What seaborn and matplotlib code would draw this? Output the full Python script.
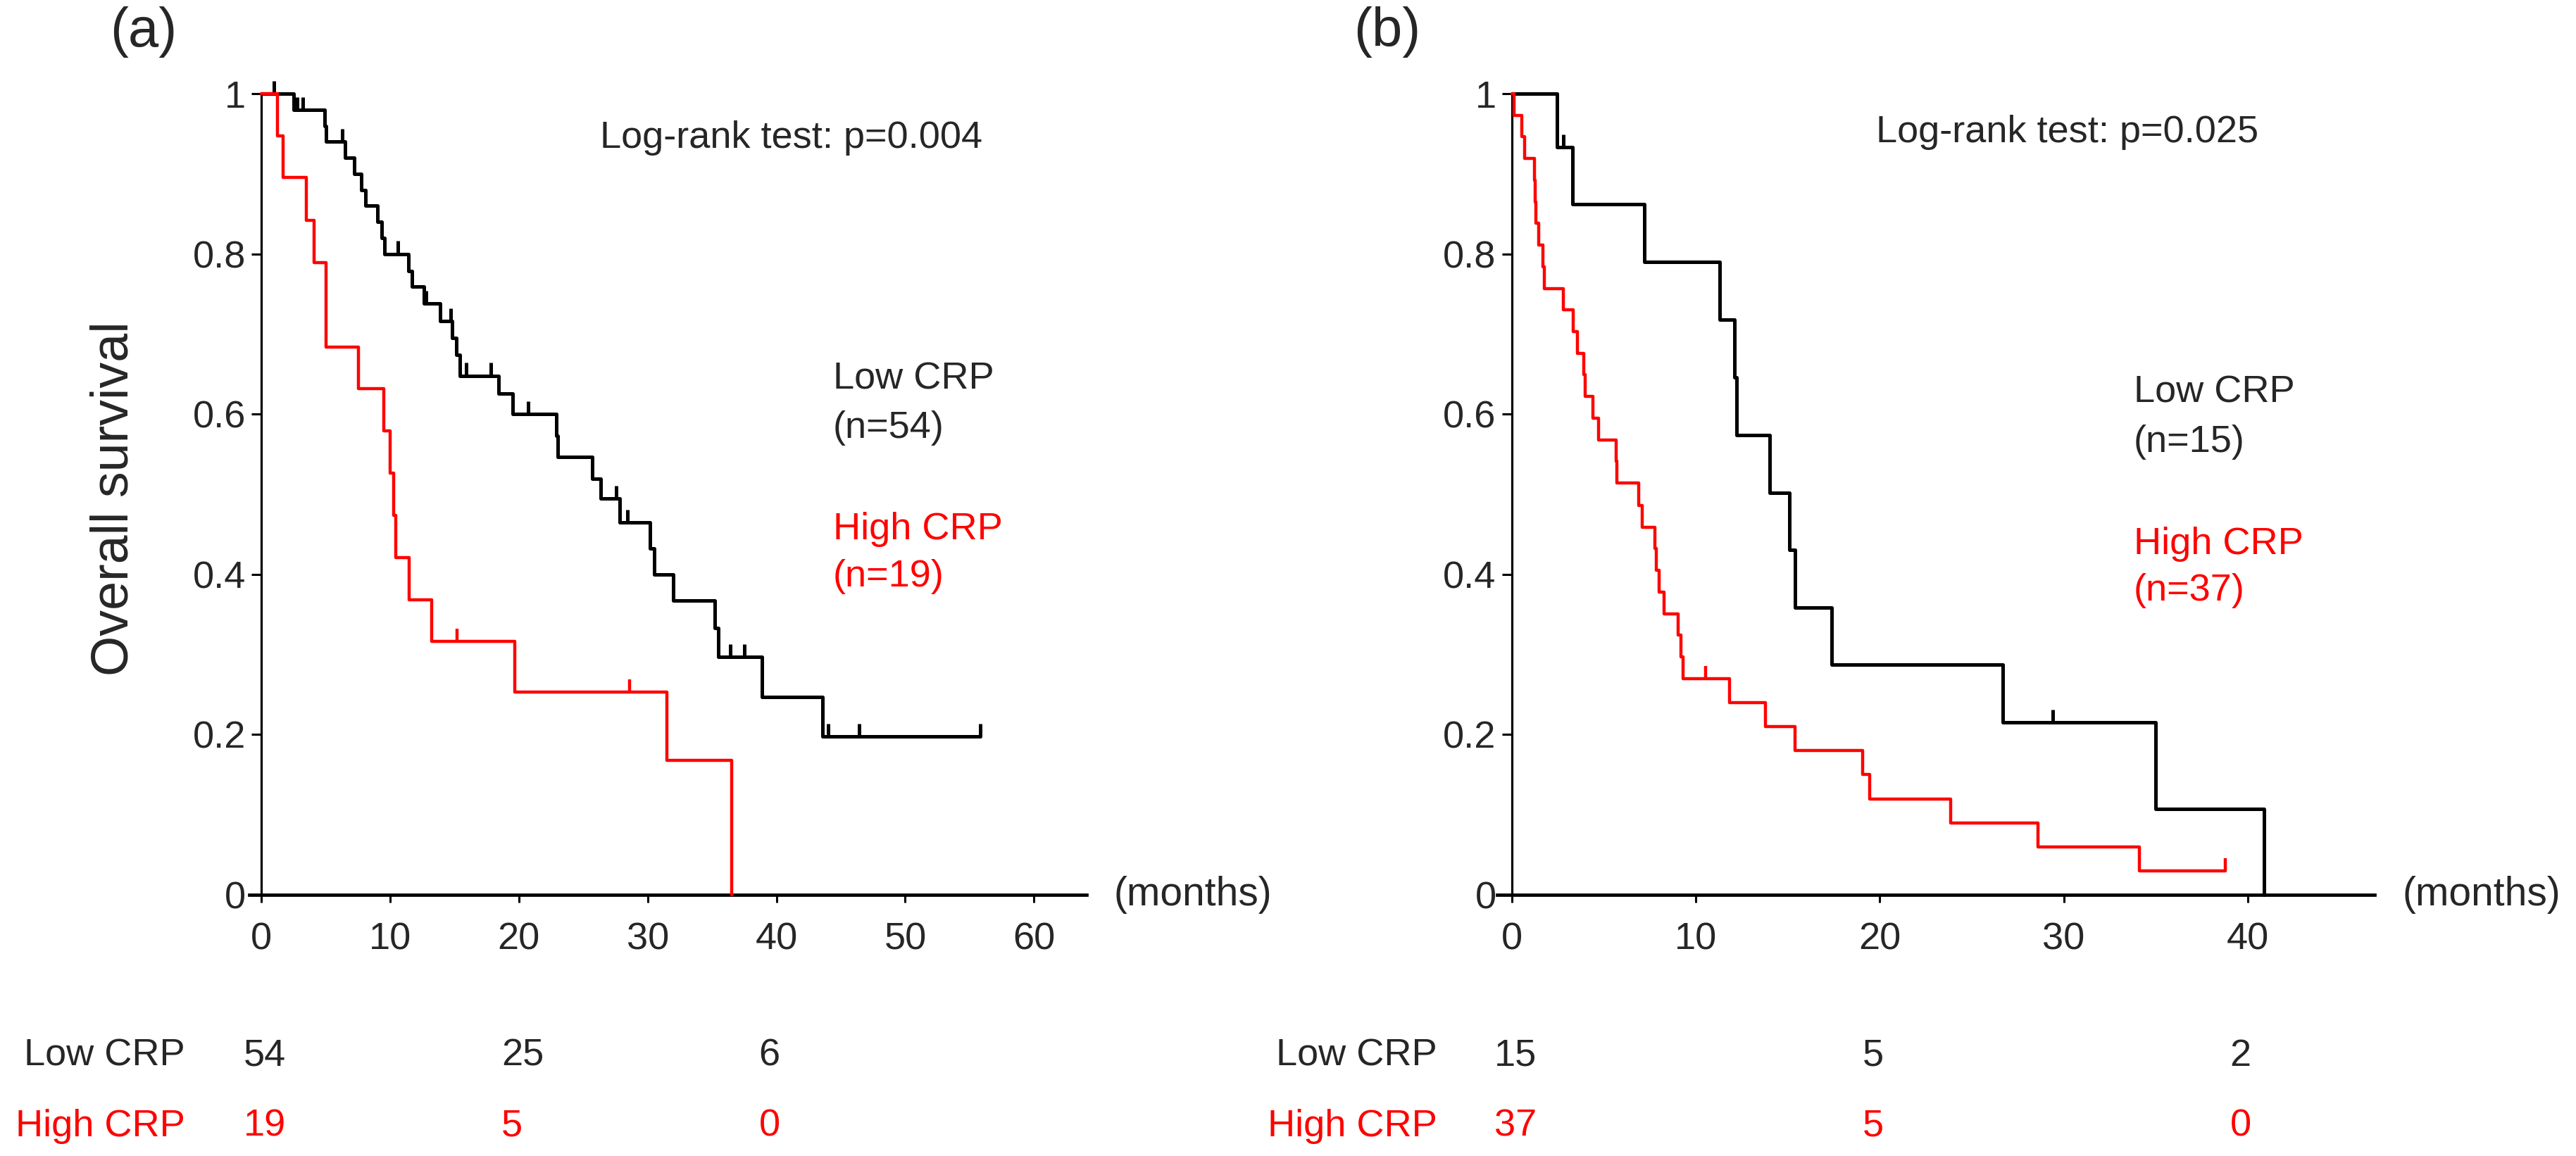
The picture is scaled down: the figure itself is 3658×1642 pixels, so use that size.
import numpy as np
import pandas as pd
import matplotlib
matplotlib.use("Agg")
import matplotlib.pyplot as plt
import matplotlib.transforms as mtransforms
import seaborn as sns

# ---- panel (a) ----
low_a_times = [2.5, 4.9, 5.0, 6.5, 7.2, 7.75, 8.1, 9.0, 9.35, 9.55, 11.45, 11.7, 12.6,
               13.9, 14.8, 15.15, 15.4, 18.4, 19.5, 22.9, 23.0, 25.7, 26.35, 27.85,
               30.2, 30.5, 32.0, 35.2, 35.5, 38.9, 43.6]
low_a_surv = [0.980, 0.960, 0.940, 0.920, 0.900, 0.880, 0.860, 0.840, 0.820, 0.800,
              0.779, 0.759, 0.738, 0.716, 0.695, 0.674, 0.648, 0.626, 0.600, 0.573,
              0.547, 0.519, 0.495, 0.465, 0.432, 0.400, 0.367, 0.333, 0.297, 0.247, 0.198]
low_a_censor = [0.97, 2.8, 3.2, 6.3, 10.6, 12.8, 14.7, 15.9, 17.8, 20.7, 27.55, 28.45,
                36.4, 37.5, 44.0, 46.4, 55.8]
low_a_end = 55.8

high_a_times = [1.24, 1.7, 3.5, 4.1, 5.0, 5.05, 7.55, 9.5, 10.0, 10.3, 10.45, 11.5,
                13.25, 19.7, 31.5, 36.5]
high_a_surv = [0.947, 0.895, 0.842, 0.789, 0.737, 0.684, 0.632, 0.579, 0.526, 0.474,
               0.421, 0.368, 0.316, 0.253, 0.168, 0.0]
high_a_censor = [15.2, 28.6]
high_a_end = 36.5

# ---- panel (b) ----
low_b_times = [2.44, 3.3, 7.2, 11.3, 12.1, 12.2, 14.0, 15.07, 15.4, 17.4, 26.7, 35.0, 40.9]
low_b_surv = [0.933, 0.862, 0.790, 0.718, 0.646, 0.574, 0.502, 0.431, 0.359, 0.287,
              0.215, 0.107, 0.0]
low_b_censor = [2.8, 29.4]
low_b_end = 40.9

high_b_times = [0.1, 0.55, 0.7, 1.24, 1.27, 1.3, 1.44, 1.67, 1.75, 2.8, 3.33, 3.56,
                3.9, 4.0, 4.4, 4.7, 5.65, 5.7, 6.9, 7.08, 7.77, 7.85, 7.99, 8.28,
                9.05, 9.2, 9.3, 11.84, 13.8, 15.4, 19.07, 19.45, 23.85, 28.6, 34.1]
high_b_surv = [0.973, 0.946, 0.919, 0.892, 0.865, 0.838, 0.811, 0.784, 0.757, 0.730,
               0.703, 0.676, 0.649, 0.622, 0.595, 0.568, 0.541, 0.514, 0.486, 0.459,
               0.432, 0.405, 0.378, 0.351, 0.324, 0.297, 0.270, 0.240, 0.210, 0.180,
               0.150, 0.120, 0.090, 0.060, 0.030]
high_b_censor = [10.55, 38.8]
high_b_end = 38.8

# numbers at risk
risk_times = [0, 20, 40]
low_a_risk = [54, 25, 6]
high_a_risk = [19, 5, 0]
low_b_risk = [15, 5, 2]
high_b_risk = [37, 5, 0]

RED = "#ff0000"
FS = 39

sns.set_theme(style="white")
plt.rcParams["font.family"] = ["Liberation Sans", "DejaVu Sans"]

fig = plt.figure(figsize=(36.58, 16.42), dpi=100)
ax_a = fig.add_axes([0.0968, 0.2259, 0.3251, 0.6931])
ax_b = fig.add_axes([0.5812, 0.2259, 0.3406, 0.6931])


def step_frame(times, surv, end):
    x = [0.0] + list(times)
    y = [1.0] + list(surv)
    if end > x[-1]:
        x.append(end)
        y.append(y[-1])
    return pd.DataFrame({"t": x, "s": y})


def draw_curve(ax, times, surv, censor, end, color, lw):
    df = step_frame(times, surv, end)
    sns.lineplot(data=df, x="t", y="s", ax=ax, color=color, linewidth=lw,
                 drawstyle="steps-post", estimator=None, sort=False,
                 legend=False, clip_on=False, zorder=3)
    xs = df["t"].to_numpy()
    ys = df["s"].to_numpy()
    idx = np.searchsorted(xs, censor, side="right") - 1
    cs = ys[idx]
    ax.vlines(censor, cs, cs + 0.016, color=color, linewidth=lw, clip_on=False, zorder=3)


def style_axes(ax, xmin, xmax, xticks):
    ax.set_xlim(xmin, xmax)
    ax.set_ylim(0, 1)
    ax.spines["top"].set_visible(False)
    ax.spines["right"].set_visible(False)
    ax.spines["left"].set_position(("data", 0))
    ax.spines["left"].set_linewidth(2.3)
    ax.spines["bottom"].set_linewidth(3.4)
    ax.spines["left"].set_color("black")
    ax.spines["bottom"].set_color("black")
    ax.set_xticks(xticks)
    ax.set_xticklabels([str(v) for v in xticks])
    yt = [0, 0.2, 0.4, 0.6, 0.8, 1]
    ax.set_yticks(yt)
    ax.set_yticklabels(["0", "0.2", "0.4", "0.6", "0.8", "1"])
    ax.tick_params(axis="x", direction="out", length=8, width=2.2, color="black",
                   labelsize=FS, pad=20, bottom=True)
    ax.tick_params(axis="y", direction="out", length=10, width=2.2, color="black",
                   labelsize=FS, pad=6, left=True)
    ax.set_xlabel("")
    ax.set_ylabel("")
    ax.grid(False)
    ax.text(1.032, 0, "(months)", transform=ax.get_yaxis_transform(),
            fontsize=FS + 2, va="center", ha="left")


def risk_table(ax, label_x, low, high):
    trans = mtransforms.blended_transform_factory(ax.transData, fig.transFigure)
    trans = trans + mtransforms.ScaledTranslation(-0.25, 0, fig.dpi_scale_trans)
    for t, lo, hi in zip(risk_times, low, high):
        ax.text(t, 0.0865, str(lo), transform=trans, fontsize=FS, ha="left", va="center")
        ax.text(t, 0.0256, str(hi), transform=trans, fontsize=FS, ha="left", va="center",
                color=RED)
    fig.text(label_x, 0.0865, "Low CRP", fontsize=FS, ha="right", va="center")
    fig.text(label_x, 0.0256, "High CRP", fontsize=FS, ha="right", va="center", color=RED)


# panel (a)
draw_curve(ax_a, low_a_times, low_a_surv, low_a_censor, low_a_end, "black", 3.6)
draw_curve(ax_a, high_a_times, high_a_surv, high_a_censor, high_a_end, RED, 3.2)
style_axes(ax_a, -0.93, 64.1, [0, 10, 20, 30, 40, 50, 60])
ax_a.text(26.3, 0.945, "Log-rank test: p=0.004", fontsize=FS, va="center", ha="left")
ax_a.text(44.4, 0.644, "Low CRP", fontsize=FS, va="center", ha="left")
ax_a.text(44.4, 0.583, "(n=54)", fontsize=FS, va="center", ha="left")
ax_a.text(44.4, 0.456, "High CRP", fontsize=FS, va="center", ha="left", color=RED)
ax_a.text(44.4, 0.397, "(n=19)", fontsize=FS, va="center", ha="left", color=RED)
risk_table(ax_a, 0.0719, low_a_risk, high_a_risk)

# panel (b)
draw_curve(ax_b, low_b_times, low_b_surv, low_b_censor, low_b_end, "black", 3.6)
draw_curve(ax_b, high_b_times, high_b_surv, high_b_censor, high_b_end, RED, 3.2)
style_axes(ax_b, -0.8, 46.9, [0, 10, 20, 30, 40])
ax_b.text(19.8, 0.952, "Log-rank test: p=0.025", fontsize=FS, va="center", ha="left")
ax_b.text(33.8, 0.627, "Low CRP", fontsize=FS, va="center", ha="left")
ax_b.text(33.8, 0.565, "(n=15)", fontsize=FS, va="center", ha="left")
ax_b.text(33.8, 0.438, "High CRP", fontsize=FS, va="center", ha="left", color=RED)
ax_b.text(33.8, 0.380, "(n=37)", fontsize=FS, va="center", ha="left", color=RED)
risk_table(ax_b, 0.558, low_b_risk, high_b_risk)

fig.text(162 / 3658, 1 - 708 / 1642, "Overall survival", rotation=90, fontsize=53,
         ha="center", va="center")
fig.text(204 / 3658, 1 - 46 / 1642, "(a)", fontsize=56, ha="center", va="center")
fig.text(1970 / 3658, 1 - 46 / 1642, "(b)", fontsize=56, ha="center", va="center")

fig.savefig("out.png", dpi=100, facecolor="white")
